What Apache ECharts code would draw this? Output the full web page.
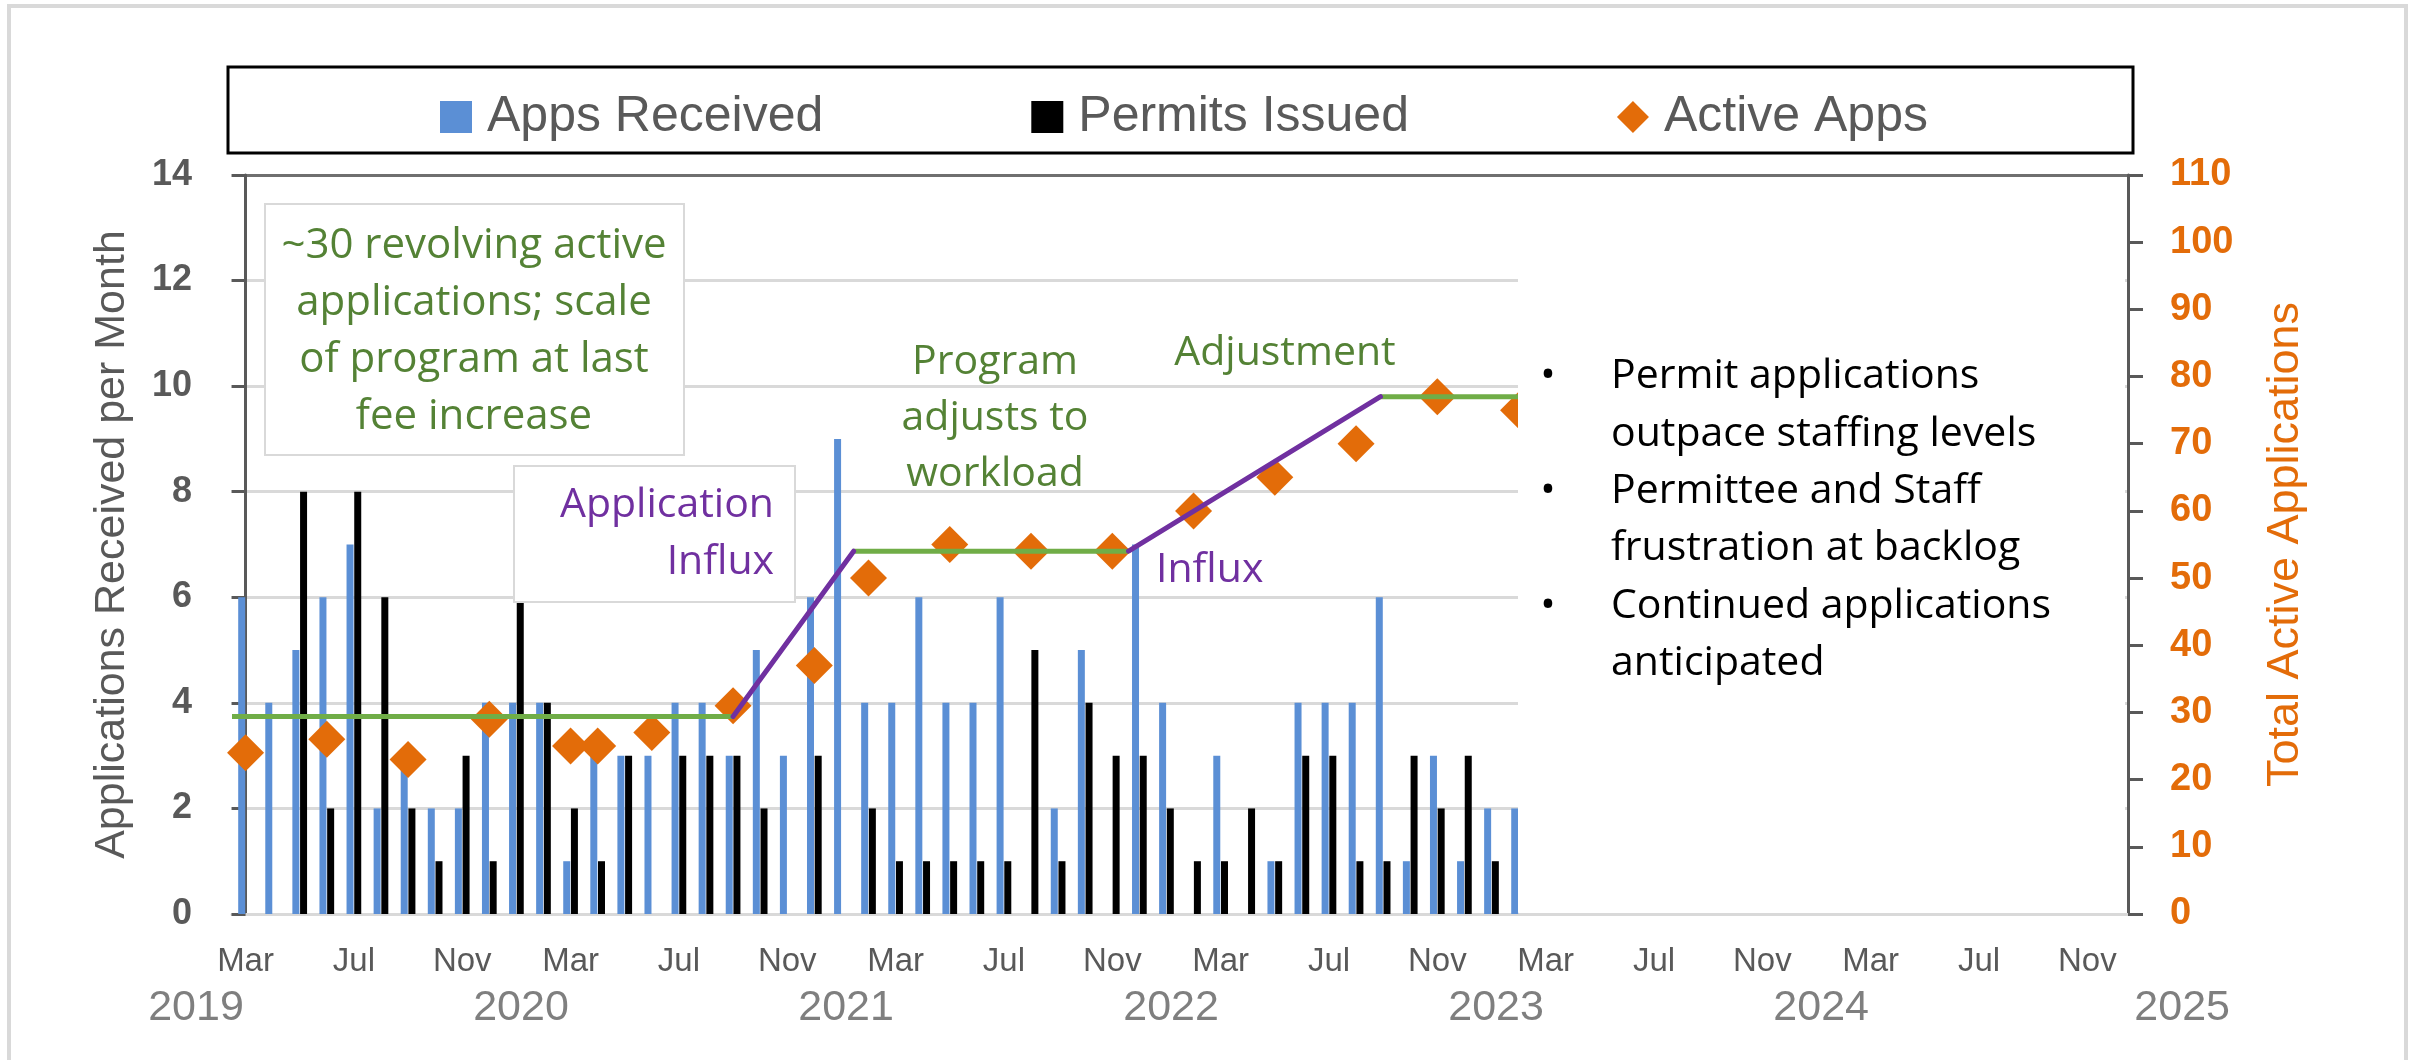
<!DOCTYPE html>
<html>
<head>
<meta charset="utf-8">
<script src="https://cdn.jsdelivr.net/npm/echarts@6/dist/echarts.min.js"></script>
<style>
  html, body { margin: 0; padding: 0; background: #ffffff; }
  #chart { width: 2420px; height: 1060px; }
</style>
</head>
<body>
<div id="chart"></div>
<script>
// Monthly axis, Mar 2019 through Dec 2024
const months = [
  'Mar 2019','Apr 2019','May 2019','Jun 2019','Jul 2019','Aug 2019','Sep 2019','Oct 2019','Nov 2019','Dec 2019',
  'Jan 2020','Feb 2020','Mar 2020','Apr 2020','May 2020','Jun 2020','Jul 2020','Aug 2020','Sep 2020','Oct 2020','Nov 2020','Dec 2020',
  'Jan 2021','Feb 2021','Mar 2021','Apr 2021','May 2021','Jun 2021','Jul 2021','Aug 2021','Sep 2021','Oct 2021','Nov 2021','Dec 2021',
  'Jan 2022','Feb 2022','Mar 2022','Apr 2022','May 2022','Jun 2022','Jul 2022','Aug 2022','Sep 2022','Oct 2022','Nov 2022','Dec 2022',
  'Jan 2023','Feb 2023','Mar 2023','Apr 2023','May 2023','Jun 2023','Jul 2023','Aug 2023','Sep 2023','Oct 2023','Nov 2023','Dec 2023',
  'Jan 2024','Feb 2024','Mar 2024','Apr 2024','May 2024','Jun 2024','Jul 2024','Aug 2024','Sep 2024','Oct 2024','Nov 2024','Dec 2024'
];
const yearLabels = ['2019', '2020', '2021', '2022', '2023', '2024', '2025'];

// Applications received per month (Mar 2019 - Feb 2023)
const appsReceived = [
  6, 4, 5, 6, 7, 2, 3, 2, 2, 4, 4, 4,
  1, 3, 3, 3, 4, 4, 3, 5, 3, 6, 9, 4,
  4, 6, 4, 4, 6, 0, 2, 5, 0, 7, 4, 0,
  3, 0, 1, 4, 4, 4, 6, 1, 3, 1, 2, 2
];
// Permits issued per month (Mar 2019 - Feb 2023)
const permitsIssued = [
  0, 0, 8, 2, 8, 6, 2, 1, 3, 1, 6, 4,
  2, 1, 3, 0, 3, 3, 3, 2, 0, 3, 0, 2,
  1, 1, 1, 1, 1, 5, 1, 4, 3, 3, 2, 1,
  1, 2, 1, 3, 3, 1, 1, 3, 2, 3, 1, null
];
// Total active applications, sampled quarterly
const activeMonths = [
  'Mar 2019','Jun 2019','Sep 2019','Dec 2019','Mar 2020','Apr 2020','Jun 2020','Sep 2020','Dec 2020',
  'Feb 2021','May 2021','Aug 2021','Nov 2021','Feb 2022','May 2022','Aug 2022','Nov 2022','Feb 2023'
];
const activeApps = [24, 26, 23, 29, 25, 25, 27, 31, 37, 50, 55, 54, 54, 60, 65, 70, 77, 75];

// Workload trend sketch: [month index from Mar 2019, active applications]
const plateauSegments = [
  [[-0.5, 29.4], [18, 29.4]],
  [[22.45, 54], [32.6, 54]],
  [[41.9, 77], [47.5, 77]]
];
const influxSegments = [
  [[18, 29.4], [22.45, 54]],
  [[32.6, 54], [41.9, 77]]
];

const bulletPoints = [
  'Permit applications\noutpace staffing levels',
  'Permittee and Staff\nfrustration at backlog',
  'Continued applications\nanticipated'
];

const BLUE = '#5B8FD5';
const ORANGE = '#E36C09';
const GREEN_LINE = '#70AD47';
const GREEN_TEXT = '#548235';
const PURPLE = '#7030A0';
const GREY = '#595959';
const LIGHT = '#D9D9D9';
const SANS = '"Liberation Sans", Arial, sans-serif';
const NOTE = '"Open Sans", "Noto Sans", sans-serif';
const BODY = '"Open Sans", "Noto Sans", sans-serif';

const chart = echarts.init(document.getElementById('chart'), null, { renderer: 'canvas' });

const trendSeries = [];
plateauSegments.forEach(seg => trendSeries.push({
  type: 'line', xAxisIndex: 1, yAxisIndex: 1, data: seg, symbol: 'none', silent: true, z: 6,
  lineStyle: { color: GREEN_LINE, width: 5, cap: 'butt' }
}));
influxSegments.forEach(seg => trendSeries.push({
  type: 'line', xAxisIndex: 1, yAxisIndex: 1, data: seg, symbol: 'none', silent: true, z: 6,
  lineStyle: { color: PURPLE, width: 5, cap: 'round' }
}));

const option = {
  animation: false,
  backgroundColor: '#ffffff',
  grid: { left: 232, top: 175, width: 1896, height: 739, containLabel: false },
  legend: {
    left: 435, top: 87,
    itemWidth: 32, itemHeight: 32, itemGap: 208,
    textStyle: { fontFamily: SANS, fontSize: 50, color: GREY, padding: [0, 0, 0, 10] },
    data: [
      { name: 'Apps Received', icon: 'rect' },
      { name: 'Permits Issued', icon: 'rect' },
      { name: 'Active Apps', icon: 'diamond' }
    ]
  },
  xAxis: [
    {
      type: 'category', data: months, boundaryGap: true,
      axisLine: { lineStyle: { color: LIGHT, width: 3 } },
      axisTick: { interval: 3, length: 10, lineStyle: { color: LIGHT, width: 3 } },
      axisLabel: {
        interval: 3, margin: 31, fontFamily: SANS, fontSize: 33, color: GREY,
        formatter: v => v.split(' ')[0]
      },
      splitLine: { show: false }
    },
    { type: 'value', min: -0.5, max: 69.5, show: false }
  ],
  yAxis: [
    {
      type: 'value', min: 0, max: 14, interval: 2, position: 'left',
      name: 'Applications Received per Month', nameLocation: 'middle', nameRotate: 90, nameGap: 98,
      nameTextStyle: { fontFamily: SANS, fontSize: 43, color: GREY },
      axisLine: { show: true, lineStyle: { color: GREY, width: 3 } },
      axisTick: { show: true, inside: false, length: 14, lineStyle: { color: GREY, width: 3 } },
      axisLabel: { margin: 40, fontFamily: SANS, fontWeight: 'bold', fontSize: 36, color: GREY },
      splitLine: {
        show: true,
        lineStyle: { color: [LIGHT, LIGHT, LIGHT, LIGHT, LIGHT, LIGHT, LIGHT, '#6F6F6F'], width: 3 }
      }
    },
    {
      type: 'value', min: 0, max: 110, interval: 10, position: 'right',
      name: 'Total Active Applications', nameLocation: 'middle', nameRotate: 90, nameGap: 135,
      nameTextStyle: { fontFamily: SANS, fontSize: 45, color: ORANGE },
      axisLine: { show: true, lineStyle: { color: GREY, width: 3 } },
      axisTick: { show: true, inside: false, length: 15, lineStyle: { color: GREY, width: 3 } },
      axisLabel: { margin: 42, fontFamily: SANS, fontWeight: 'bold', fontSize: 38, color: ORANGE },
      splitLine: { show: false }
    }
  ],
  series: [
    {
      name: 'Apps Received', type: 'bar', xAxisIndex: 0, yAxisIndex: 0,
      data: appsReceived, barWidth: 7, barGap: '10%', z: 2,
      itemStyle: { color: BLUE }
    },
    {
      name: 'Permits Issued', type: 'bar', xAxisIndex: 0, yAxisIndex: 0,
      data: permitsIssued, barWidth: 7, barGap: '10%', z: 2,
      itemStyle: { color: '#000000' }
    },
    {
      name: 'Active Apps', type: 'scatter', xAxisIndex: 0, yAxisIndex: 1,
      data: activeMonths.map((m, i) => [m, activeApps[i]]),
      symbol: 'diamond', symbolSize: [37, 37], z: 4,
      itemStyle: { color: ORANGE, opacity: 1 }
    }
  ].concat(trendSeries)
};

chart.setOption(option);

// Annotations and frames, placed once the axes are laid out
const xPix = v => chart.convertToPixel({ xAxisIndex: 1 }, v);
const graphics = [];

// outer frame
graphics.push({
  type: 'rect', z: 200, silent: true,
  shape: { x: 9, y: 6, width: 2397, height: 1100 },
  style: { fill: null, stroke: LIGHT, lineWidth: 4 }
});
// legend frame
graphics.push({
  type: 'rect', z: 200, silent: true,
  shape: { x: 228, y: 67, width: 1905, height: 86 },
  style: { fill: null, stroke: '#000000', lineWidth: 3 }
});

// year row under the month labels
yearLabels.forEach((yr, k) => {
  const boundary = xPix(12 * k - 0.5);
  const cx = k === yearLabels.length - 1 ? boundary : boundary - 36;
  graphics.push({
    type: 'text', z: 200, silent: true,
    style: {
      text: yr, x: cx, y: 1008, align: 'center', verticalAlign: 'middle',
      fontFamily: SANS, fontSize: 43, fill: '#7F7F7F'
    }
  });
});

// note box: baseline workload
graphics.push({
  type: 'rect', z: 100, silent: true,
  shape: { x: 265, y: 204, width: 419, height: 251 },
  style: { fill: '#ffffff', stroke: LIGHT, lineWidth: 2 }
});
graphics.push({
  type: 'text', z: 101, silent: true,
  style: {
    text: '~30 revolving active\napplications; scale\nof program at last\nfee increase',
    x: 474, y: 218, align: 'center', verticalAlign: 'top', lineHeight: 57,
    fontFamily: NOTE, fontSize: 42, fill: GREEN_TEXT
  }
});

// note box: application influx
graphics.push({
  type: 'rect', z: 100, silent: true,
  shape: { x: 514, y: 466, width: 281, height: 136 },
  style: { fill: '#ffffff', stroke: LIGHT, lineWidth: 2 }
});
graphics.push({
  type: 'text', z: 101, silent: true,
  style: {
    text: 'Application\nInflux', x: 774, y: 477, align: 'right', verticalAlign: 'top', lineHeight: 57,
    fontFamily: NOTE, fontSize: 41, fill: PURPLE
  }
});

// free labels along the trend
graphics.push({
  type: 'text', z: 101, silent: true,
  style: {
    text: 'Program\nadjusts to\nworkload', x: 995, y: 334, align: 'center', verticalAlign: 'top', lineHeight: 56,
    fontFamily: NOTE, fontSize: 41, fill: GREEN_TEXT
  }
});
graphics.push({
  type: 'text', z: 101, silent: true,
  style: {
    text: 'Adjustment', x: 1285, y: 353, align: 'center', verticalAlign: 'middle',
    fontFamily: NOTE, fontSize: 41, fill: GREEN_TEXT
  }
});
graphics.push({
  type: 'text', z: 101, silent: true,
  style: {
    text: 'Influx', x: 1156, y: 570, align: 'left', verticalAlign: 'middle',
    fontFamily: NOTE, fontSize: 41, fill: PURPLE
  }
});

// outlook panel on the right of the plot
graphics.push({
  type: 'rect', z: 100, silent: true,
  shape: { x: 1518, y: 178, width: 607, height: 734.5 },
  style: { fill: '#ffffff', stroke: null }
});
graphics.push({
  type: 'text', z: 101, silent: true,
  style: {
    text: bulletPoints.join('\n'), x: 1611, y: 348, align: 'left', verticalAlign: 'top', lineHeight: 57.3,
    fontFamily: BODY, fontSize: 41, fill: '#000000'
  }
});
graphics.push({
  type: 'text', z: 101, silent: true,
  style: {
    text: bulletPoints.map(() => '•').join('\n\n'), x: 1548, y: 348, align: 'center', verticalAlign: 'top',
    lineHeight: 57.3, fontFamily: BODY, fontSize: 41, fill: '#000000'
  }
});

chart.setOption({ graphic: { elements: graphics } });
</script>
</body>
</html>
